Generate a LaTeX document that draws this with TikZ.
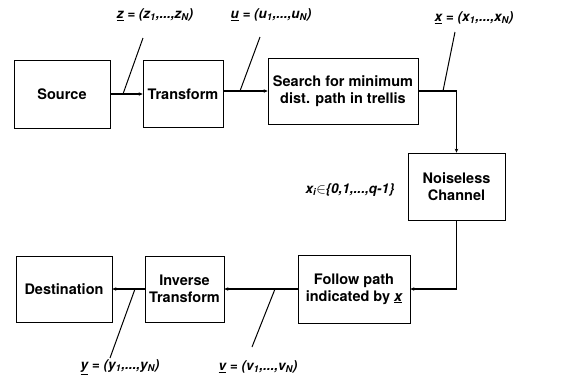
\documentclass[tikz,border=0pt]{standalone}
\usepackage{fontspec}
\setmainfont{TeX Gyre Heros}
\usepackage{tikz}
\usetikzlibrary{positioning,arrows.meta,calc}
\newcommand{\vsym}[1]{\underline{#1}}
\newcommand{\sub}[1]{\textsubscript{#1}}

\begin{document}
\begin{tikzpicture}[x=1pt,y=-1pt,
  every node/.style={font=\fontsize{14.5}{17}\selectfont\bfseries},
  box/.style={draw,line width=0.7pt,align=center,inner sep=2pt},
  lab/.style={font=\fontsize{13.5}{15}\selectfont\bfseries\itshape},
  flow/.style={draw,line width=1.5pt,-{Stealth[length=4pt,width=3.5pt]}},
  lead/.style={draw,line width=1pt}
]
\useasboundingbox (0,0) rectangle (566,381);
% blocks
\node[box,minimum width=96pt,minimum height=68pt]  (src)  at (62,94)    {Source};
\node[box,minimum width=80pt,minimum height=67pt]  (trf)  at (183,94)   {Transform};
\node[box,minimum width=150pt,minimum height=66pt] (srch) at (343,91)   {Search for minimum\\dist. path in trellis};
\node[box,minimum width=97pt,minimum height=67pt]  (chn)  at (456.5,186.5) {Noiseless\\Channel};
\node[box,minimum width=112pt,minimum height=68pt] (fol)  at (354,289)  {Follow path\\indicated by \textit{\vsym{x}}};
\node[box,minimum width=79pt,minimum height=66pt]  (inv)  at (184.5,289) {Inverse\\Transform};
\node[box,minimum width=96pt,minimum height=66pt]  (dst)  at (64,289)   {Destination};

% connectors
\draw[flow] (src) -- (trf);
\draw[flow] (trf.east |- srch) -- (srch);
\draw[flow] (srch.east) -| (chn.north);
\draw[flow] (chn.south) |- (fol.east);
\draw[flow] (fol) -- (inv);
\draw[flow] (inv) -- (dst);

% labels and leaders
\node[lab] (lz)  at (155,15)  {\vsym{z} = (z\sub{1},...,z\sub{N})};
\node[lab] (lu)  at (271,15)  {\vsym{u} = (u\sub{1},...,u\sub{N})};
\node[lab] (lx)  at (474,18)  {\vsym{x} = (x\sub{1},...,x\sub{N})};
\node[lab] (lxi) at (350,190) {x\sub{i}$\in$\{0,1,...,q-1\}};
\node[lab] (ly)  at (120,367) {\vsym{y} = (y\sub{1},...,y\sub{N})};
\node[lab] (lv)  at (258,367) {\vsym{v} = (v\sub{1},...,v\sub{N})};

\coordinate (tz) at (143,38);  \coordinate (hz) at (123,94);
\coordinate (tu) at (260,37);  \coordinate (hu) at (240,91);
\coordinate (tx) at (455,32);  \coordinate (hx) at (443,91);
\coordinate (ty) at (110,358); \coordinate (hy) at (135,289);
\coordinate (tv) at (252,347); \coordinate (hv) at (275,289);
\draw[lead] (tz) -- (hz);
\draw[lead] (tu) -- (hu);
\draw[lead] (tx) -- (hx);
\draw[lead] (ty) -- (hy);
\draw[lead] (tv) -- (hv);
\end{tikzpicture}
\end{document}
